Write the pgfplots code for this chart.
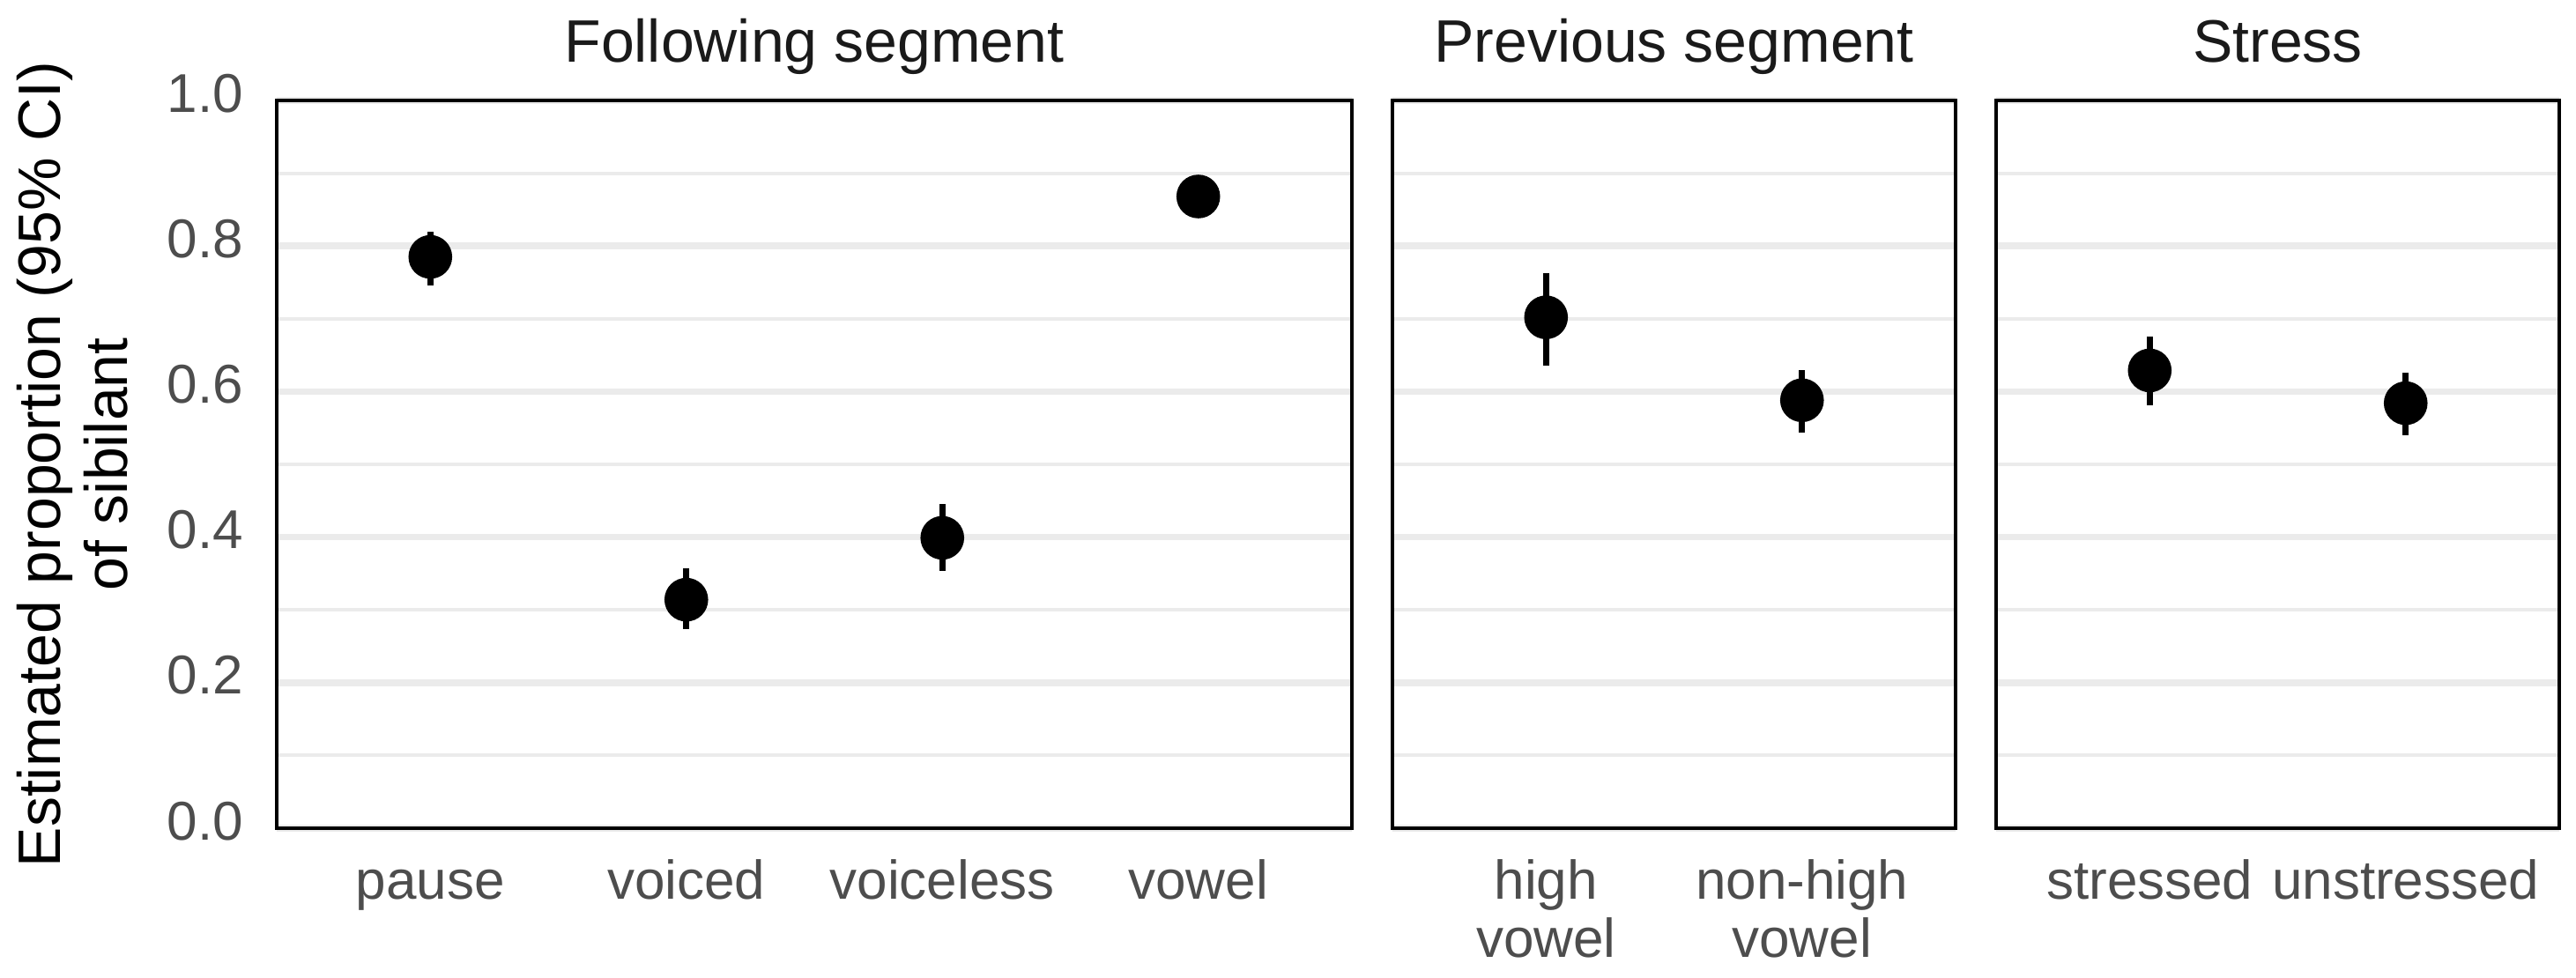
\documentclass[border=0pt]{standalone}
\usepackage{fontspec}
\setmainfont{Liberation Sans}
\usepackage{pgfplots}
\pgfplotsset{compat=1.18}
\definecolor{tickgray}{HTML}{4D4D4D}
\definecolor{gridgray}{HTML}{EBEBEB}
\definecolor{striptext}{HTML}{1A1A1A}

\pgfplotsset{
  panel/.style={
    scale only axis, height=206.5pt,
    ymin=0, ymax=1,
    ytick={0,0.2,0.4,0.6,0.8,1},
    minor ytick={0.1,0.3,0.5,0.7,0.9},
    ymajorgrids, yminorgrids,
    major grid style={gridgray, line width=1.9pt},
    minor grid style={gridgray, line width=1pt},
    major tick length=0pt, minor tick length=0pt,
    axis line style={black, line width=1pt},
    tick label style={font=\fontsize{15.5}{16.5}\selectfont, text=tickgray},
    typeset ticklabels with strut,
    x tick label style={align=center, yshift=-5pt},
    xtick={0,1,2,3},
    title style={at={(0.5,1)}, anchor=base, yshift=4.75pt,
      font=\fontsize{17}{20}\selectfont, text=striptext},
    /pgf/number format/assume math mode=true,
    clip=false,
  },
  ci/.style={
    only marks, mark=*, mark size=6pt, black,
    error bars/.cd, y dir=both, y explicit, error mark=none,
    error bar style={line width=1.75pt, black},
  },
}

\begin{document}
\begin{tikzpicture}
\useasboundingbox (0,0) rectangle (730.75pt,277.5pt);

\begin{axis}[panel, at={(78.5pt,42.5pt)}, anchor=south west,
  width=305pt, xmin=-0.6, xmax=3.6,
  xticklabels={pause,voiced,voiceless,vowel},
  yticklabel style={xshift=-6pt,
    /pgf/number format/.cd, fixed, fixed zerofill, precision=1},
  ylabel={Estimated proportion (95\% CI)\\of sibilant},
  ylabel style={at={(axis description cs:-0.2426,0.5)}, anchor=north,
    inner sep=0pt, align=center, font=\fontsize{17}{19}\selectfont, text=black},
  title={Following segment}]
\addplot[ci] coordinates {
  (0,0.785) += (0,0.035) -= (0,0.039)
  (1,0.314) += (0,0.043) -= (0,0.041)
  (2,0.399) += (0,0.046) -= (0,0.046)
  (3,0.868) += (0,0.012) -= (0,0.012)
};
\end{axis}

\begin{axis}[panel, at={(395pt,42.5pt)}, anchor=south west,
  width=159.75pt, xmin=-0.6, xmax=1.6, yticklabels={},
  xticklabels={{high\\vowel},{non-high\\vowel}},
  title={Previous segment}]
\addplot[ci] coordinates {
  (0,0.702) += (0,0.061) -= (0,0.067)
  (1,0.588) += (0,0.042) -= (0,0.044)
};
\end{axis}

\begin{axis}[panel, at={(566.25pt,42.5pt)}, anchor=south west,
  width=159.75pt, xmin=-0.6, xmax=1.6, yticklabels={},
  xticklabels={stressed,unstressed},
  title={Stress}]
\addplot[ci] coordinates {
  (0,0.629) += (0,0.046) -= (0,0.048)
  (1,0.584) += (0,0.042) -= (0,0.044)
};
\end{axis}
\end{tikzpicture}
\end{document}
